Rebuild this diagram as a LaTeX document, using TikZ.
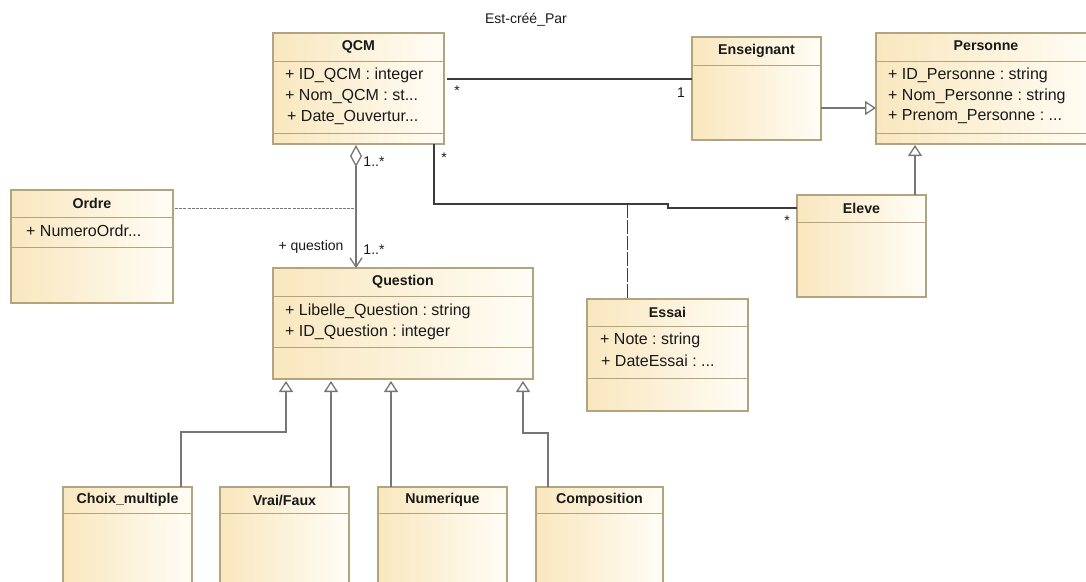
\documentclass[tikz,border=0pt]{standalone}
\usepackage{fontspec}
\setmainfont{Liberation Sans}
\usetikzlibrary{arrows.meta,calc}
\definecolor{bordc}{RGB}{178,164,126}
\definecolor{fillL}{RGB}{249,231,190}
\definecolor{fillR}{RGB}{255,253,246}
\definecolor{assocc}{RGB}{60,60,60}
\definecolor{genc}{RGB}{118,118,118}
\definecolor{txtc}{RGB}{25,25,25}
\frenchspacing
\begin{document}
\begin{tikzpicture}[x=1pt,y=-1pt,
  cls/.style={draw=bordc, line width=1.2pt, left color=fillL, right color=fillR, anchor=north west, inner sep=0pt, outer sep=0pt},
  sepline/.style={draw=bordc, line width=1pt},
  ttl/.style={font=\fontsize{14.2}{16}\selectfont\bfseries, text=txtc, inner sep=0pt},
  attr/.style={font=\fontsize{16}{19}\selectfont, text=txtc, anchor=west, inner sep=0pt},
  lbl/.style={font=\fontsize{14}{16}\selectfont, text=txtc, inner sep=0pt},
  assoc/.style={draw=assocc, line width=1.1pt},
  gen/.style={draw=genc, line width=1.3pt, -{Triangle[open, length=11pt, width=14pt, fill=white]}},
  agg/.style={draw=genc, line width=1.3pt, {Diamond[open, length=22pt, width=12pt, fill=white]}-{Straight Barb[length=9pt, width=12pt]}},
  acdash/.style={draw=assocc, line width=1pt, dash pattern=on 14pt off 2pt},
  ordash/.style={draw=genc, line width=0.9pt, dash pattern=on 3pt off 1.2pt}
]
\useasboundingbox (0,0) rectangle (1086,581);
\clip (0,0) rectangle (1086,581);

% ---------- classes ----------
\node[cls, minimum width=171pt, minimum height=111pt] (qcm) at (273,33) {};
\draw[sepline] ($(qcm.north west)+(0,28)$) -- ($(qcm.north east)+(0,28)$);
\draw[sepline] ($(qcm.north west)+(0,100)$) -- ($(qcm.north east)+(0,100)$);
\node[ttl] (qcmt) at ($(qcm.north)+(0,14)$) {QCM};
\node[attr] (qcma1) at (285,75) {+ ID\_QCM : integer};
\node[attr] (qcma2) at (285,97) {+ Nom\_QCM : st...};
\node[attr] (qcma3) at (287,118) {+ Date\_Ouvertur...};

\node[cls, minimum width=129pt, minimum height=103pt] (ens) at (692,37) {};
\draw[sepline] ($(ens.north west)+(0,28)$) -- ($(ens.north east)+(0,28)$);
\node[ttl] (enst) at ($(ens.north)+(0,14)$) {Enseignant};

\node[cls, minimum width=220pt, minimum height=111pt] (pers) at (876,33) {};
\draw[sepline] ($(pers.north west)+(0,28)$) -- ($(pers.north east)+(0,28)$);
\draw[sepline] ($(pers.north west)+(0,100)$) -- ($(pers.north east)+(0,100)$);
\node[ttl] (perst) at ($(pers.north)+(0,13)$) {Personne};
\node[attr] (persa1) at (888,75) {+ ID\_Personne : string};
\node[attr] (persa2) at (888,96) {+ Nom\_Personne : string};
\node[attr] (persa3) at (888,117) {+ Prenom\_Personne : ...};

\node[cls, minimum width=162pt, minimum height=113pt] (ordre) at (11,190) {};
\draw[sepline] ($(ordre.north west)+(0,27)$) -- ($(ordre.north east)+(0,27)$);
\draw[sepline] ($(ordre.north west)+(0,57)$) -- ($(ordre.north east)+(0,57)$);
\node[ttl] (ordret) at ($(ordre.north)+(0,13)$) {Ordre};
\node[attr] (ordrea1) at (26,231) {+ NumeroOrdr...};

\node[cls, minimum width=260pt, minimum height=111pt] (quest) at (273,268) {};
\draw[sepline] ($(quest.north west)+(0,28)$) -- ($(quest.north east)+(0,28)$);
\draw[sepline] ($(quest.north west)+(0,79)$) -- ($(quest.north east)+(0,79)$);
\node[ttl] (questt) at ($(quest.north)+(0,14)$) {Question};
\node[attr] (questa1) at (285,311) {+ Libelle\_Question : string};
\node[attr] (questa2) at (285,332) {+ ID\_Question : integer};

\node[cls, minimum width=129pt, minimum height=102pt] (eleve) at (797,195) {};
\draw[sepline] ($(eleve.north west)+(0,27)$) -- ($(eleve.north east)+(0,27)$);
\node[ttl] (elevet) at ($(eleve.north)+(0,13)$) {Eleve};

\node[cls, minimum width=161pt, minimum height=112pt] (essai) at (587,299) {};
\draw[sepline] ($(essai.north west)+(0,27)$) -- ($(essai.north east)+(0,27)$);
\draw[sepline] ($(essai.north west)+(0,79)$) -- ($(essai.north east)+(0,79)$);
\node[ttl] (essait) at ($(essai.north)+(0,13)$) {Essai};
\node[attr] (essaia1) at (600,340) {+ Note : string};
\node[attr] (essaia2) at (601,361) {+ DateEssai : ...};

\node[cls, minimum width=129pt, minimum height=110pt] (choix) at (63,487) {};
\draw[sepline] ($(choix.north west)+(0,26)$) -- ($(choix.north east)+(0,26)$);
\node[ttl] (choixt) at ($(choix.north)+(0,13)$) {Choix\_multiple};

\node[cls, minimum width=129pt, minimum height=110pt] (vrai) at (220,487) {};
\draw[sepline] ($(vrai.north west)+(0,26)$) -- ($(vrai.north east)+(0,26)$);
\node[ttl] (vrait) at ($(vrai.north)+(0,13)$) {Vrai/Faux};

\node[cls, minimum width=129pt, minimum height=110pt] (num) at (378,487) {};
\draw[sepline] ($(num.north west)+(0,26)$) -- ($(num.north east)+(0,26)$);
\node[ttl] (numt) at ($(num.north)+(0,13)$) {Numerique};

\node[cls, minimum width=127pt, minimum height=110pt] (comp) at (536,487) {};
\draw[sepline] ($(comp.north west)+(0,26)$) -- ($(comp.north east)+(0,26)$);
\node[ttl] (compt) at ($(comp.north)+(0,13)$) {Composition};

% ---------- connectors ----------
% Est-cree_Par association
\draw[assoc] ($(qcm.north east)+(3,46)$) -- ($(ens.north west)+(0,42)$);
\node[lbl] (estpar) at (526,20) {Est-créé\_Par};
\node[lbl] (m1) at (457,91) {*};
\node[lbl] (m2) at (681,93) {1};

% Enseignant -> Personne
\draw[gen] ($(ens.north east)+(0,71)$) -- ($(pers.north west)+(0,75)$);
% Eleve -> Personne
\draw[gen] ($(eleve.north west)+(118,0)$) -- ($(pers.south west)+(39,1)$);

% QCM -- Eleve association
\coordinate (j1) at (668,204);
\coordinate (j2) at (668,208);
\coordinate (acp) at (627,204);
\draw[assoc] ($(qcm.south west)+(161,0)$) |- (j1) -- (j2) -- ($(eleve.north west)+(0,13)$);
\node[lbl] (m3) at (444,158) {*};
\node[lbl] (m4) at (787,221) {*};
% association class Essai
\draw[acdash] (acp) -- ($(essai.north west)+(40,0)$);

% aggregation QCM -> Question
\coordinate (aggmid) at (356,208);
\draw[agg] ($(qcm.south west)+(83,1)$) -- ($(quest.north west)+(83,0)$);
\node[lbl] (m5) at (374,162) {1..*};
\node[lbl] (role) at (311,247) {+ question};
\node[lbl] (m6) at (374,250) {1..*};
% association class Ordre
\draw[ordash] ($(ordre.north east)+(2,18)$) -- (aggmid);

% generalizations to Question
\coordinate (b1) at (286,432);
\coordinate (b4) at (523,433);
\draw[gen] ($(choix.north west)+(118,0)$) |- (b1) -- ($(quest.south west)+(13,2)$);
\draw[gen] ($(vrai.north west)+(111,0)$) -- ($(quest.south west)+(58,2)$);
\draw[gen] ($(num.north west)+(13,0)$) -- ($(quest.south west)+(118,2)$);
\draw[gen] ($(comp.north west)+(12,0)$) |- (b4) -- ($(quest.south west)+(250,2)$);
\end{tikzpicture}
\end{document}
